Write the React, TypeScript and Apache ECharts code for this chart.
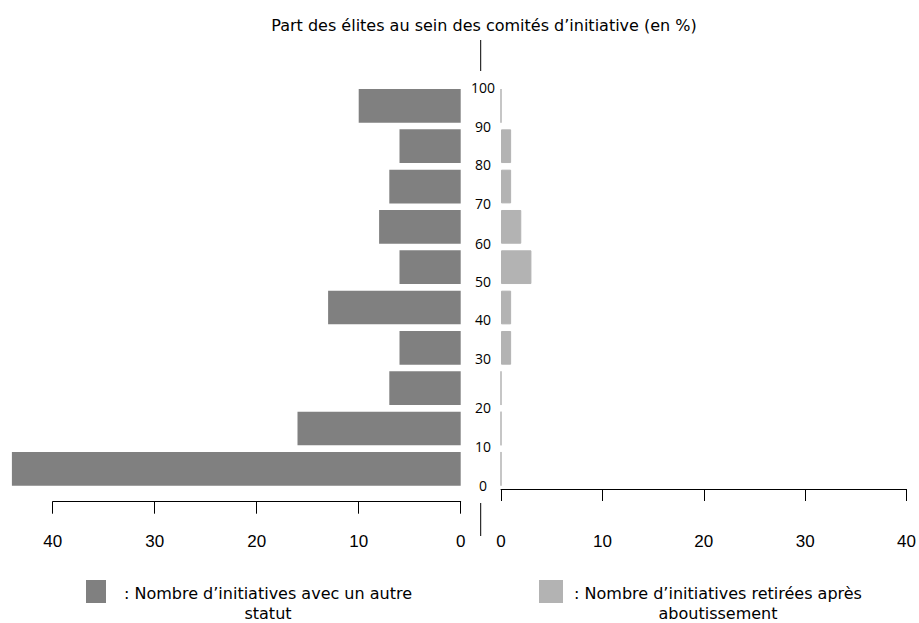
import React, { useEffect, useRef } from "react";
import * as echarts from "echarts";

// Bins of the share of elites in initiative committees (bottom to top)
const bins = ["0-10", "10-20", "20-30", "30-40", "40-50", "50-60", "60-70", "70-80", "80-90", "90-100"];
// Number of initiatives with another status (left, dark)
const otherStatus = [44, 16, 7, 6, 13, 6, 8, 7, 6, 10];
// Number of initiatives withdrawn after qualification (right, light)
const withdrawn = [0, 0, 0, 1, 1, 3, 2, 1, 1, 0];
// Centre scale tick labels
const pctTicks = [0, 10, 20, 30, 40, 50, 60, 70, 80, 90, 100];
// Count axis ticks
const countMax = 40;
const countInterval = 10;

const titleText = "Part des élites au sein des comités d’initiative (en %)";
const legendDark = [": Nombre d’initiatives avec un autre", "statut"];
const legendLight = [": Nombre d’initiatives retirées après", "aboutissement"];

// visual nudges (px, + = down) of the centre labels as placed in the original
const labelNudgePx = [-4, -2.6, -1, -9.7, -8.6, -6.3, -4, -2.7, -2, 0.7, 1.3];

const DARK = "#808080";
const LIGHT = "#b3b3b3";
const FONT = "'Open Sans', sans-serif";
const TFONT = "'DejaVu Sans', sans-serif";

export default function App() {
  const ref = useRef<HTMLDivElement>(null);
  useEffect(() => {
    if (!ref.current) return;
    const chart = echarts.init(ref.current, undefined, { renderer: "svg" });
    const gridTop = 85.7;
    const gridBottom = 134;
    const gridH = 623 - gridTop - gridBottom;
    const labelPos = pctTicks.map((v, i) => v - (labelNudgePx[i] * 100) / gridH);

    const countAxisCommon = {
      type: "value" as const,
      min: 0,
      max: countMax,
      interval: countInterval,
      position: "bottom" as const,
      offset: 12.7,
      axisLine: { show: true, lineStyle: { color: "#000", width: 1 } },
      axisTick: { show: true, length: 12, lineStyle: { color: "#000" } },
      axisLabel: { color: "#000", fontSize: 17, fontFamily: "'Liberation Sans', Arial, sans-serif", margin: 31 },
      splitLine: { show: false },
    };

    const legendText = (lines: string[], x: number) =>
      lines.map((t, i) => ({
        type: "text",
        x,
        y: 593 + i * 20,
        style: { text: t, fill: "#000", font: `16px ${TFONT}`, textAlign: "center", textVerticalAlign: "middle" },
      }));

    chart.setOption({
      animation: false,
      backgroundColor: "#fff",
      grid: [
        { left: 52.7, right: 919 - 460.7, top: gridTop, bottom: gridBottom },
        { left: 501, right: 10, top: gridTop, bottom: gridBottom },
      ],
      xAxis: [
        { ...countAxisCommon, gridIndex: 0, inverse: true },
        { ...countAxisCommon, gridIndex: 1 },
      ],
      yAxis: [
        { type: "category", gridIndex: 0, data: bins, show: false },
        { type: "category", gridIndex: 1, data: bins, show: false, position: "right" },
        {
          type: "value",
          gridIndex: 1,
          position: "left",
          min: 0,
          max: 100,
          axisLine: { show: false },
          axisTick: { show: false },
          splitLine: { show: false },
          axisLabel: {
            show: true,
            customValues: labelPos,
            formatter: (v: number) => String(Math.round(v / 10) * 10),
            align: "center",
            margin: 18,
            fontSize: 14,
            color: "#000",
            fontFamily: FONT,
          },
        },
      ],
      series: [
        {
          name: "Nombre d’initiatives avec un autre statut",
          type: "bar",
          xAxisIndex: 0,
          yAxisIndex: 0,
          data: otherStatus,
          clip: false,
          barCategoryGap: "16.4%",
          itemStyle: { color: DARK },
        },
        {
          name: "Nombre d’initiatives retirées après aboutissement",
          type: "bar",
          xAxisIndex: 1,
          yAxisIndex: 1,
          data: withdrawn,
          clip: false,
          barCategoryGap: "16.4%",
          itemStyle: { color: LIGHT, borderColor: LIGHT, borderWidth: 1 },
        },
      ],
      graphic: [
        {
          type: "text",
          x: 484,
          y: 25,
          style: { text: titleText, fill: "#000", font: `16px ${TFONT}`, textAlign: "center", textVerticalAlign: "middle" },
        },
        { type: "line", shape: { x1: 480.7, y1: 40, x2: 480.7, y2: 71 }, style: { stroke: "#000", lineWidth: 1 } },
        { type: "line", shape: { x1: 480.7, y1: 503, x2: 480.7, y2: 536 }, style: { stroke: "#000", lineWidth: 1 } },
        { type: "rect", shape: { x: 86, y: 580, width: 20, height: 23 }, style: { fill: DARK } },
        ...legendText(legendDark, 268),
        { type: "rect", shape: { x: 539, y: 580, width: 24, height: 23 }, style: { fill: LIGHT } },
        ...legendText(legendLight, 718),
      ],
    });
    return () => chart.dispose();
  }, []);
  return <div ref={ref} style={{ position: "fixed", left: 0, top: 0, width: 919, height: 623 }} />;
}
